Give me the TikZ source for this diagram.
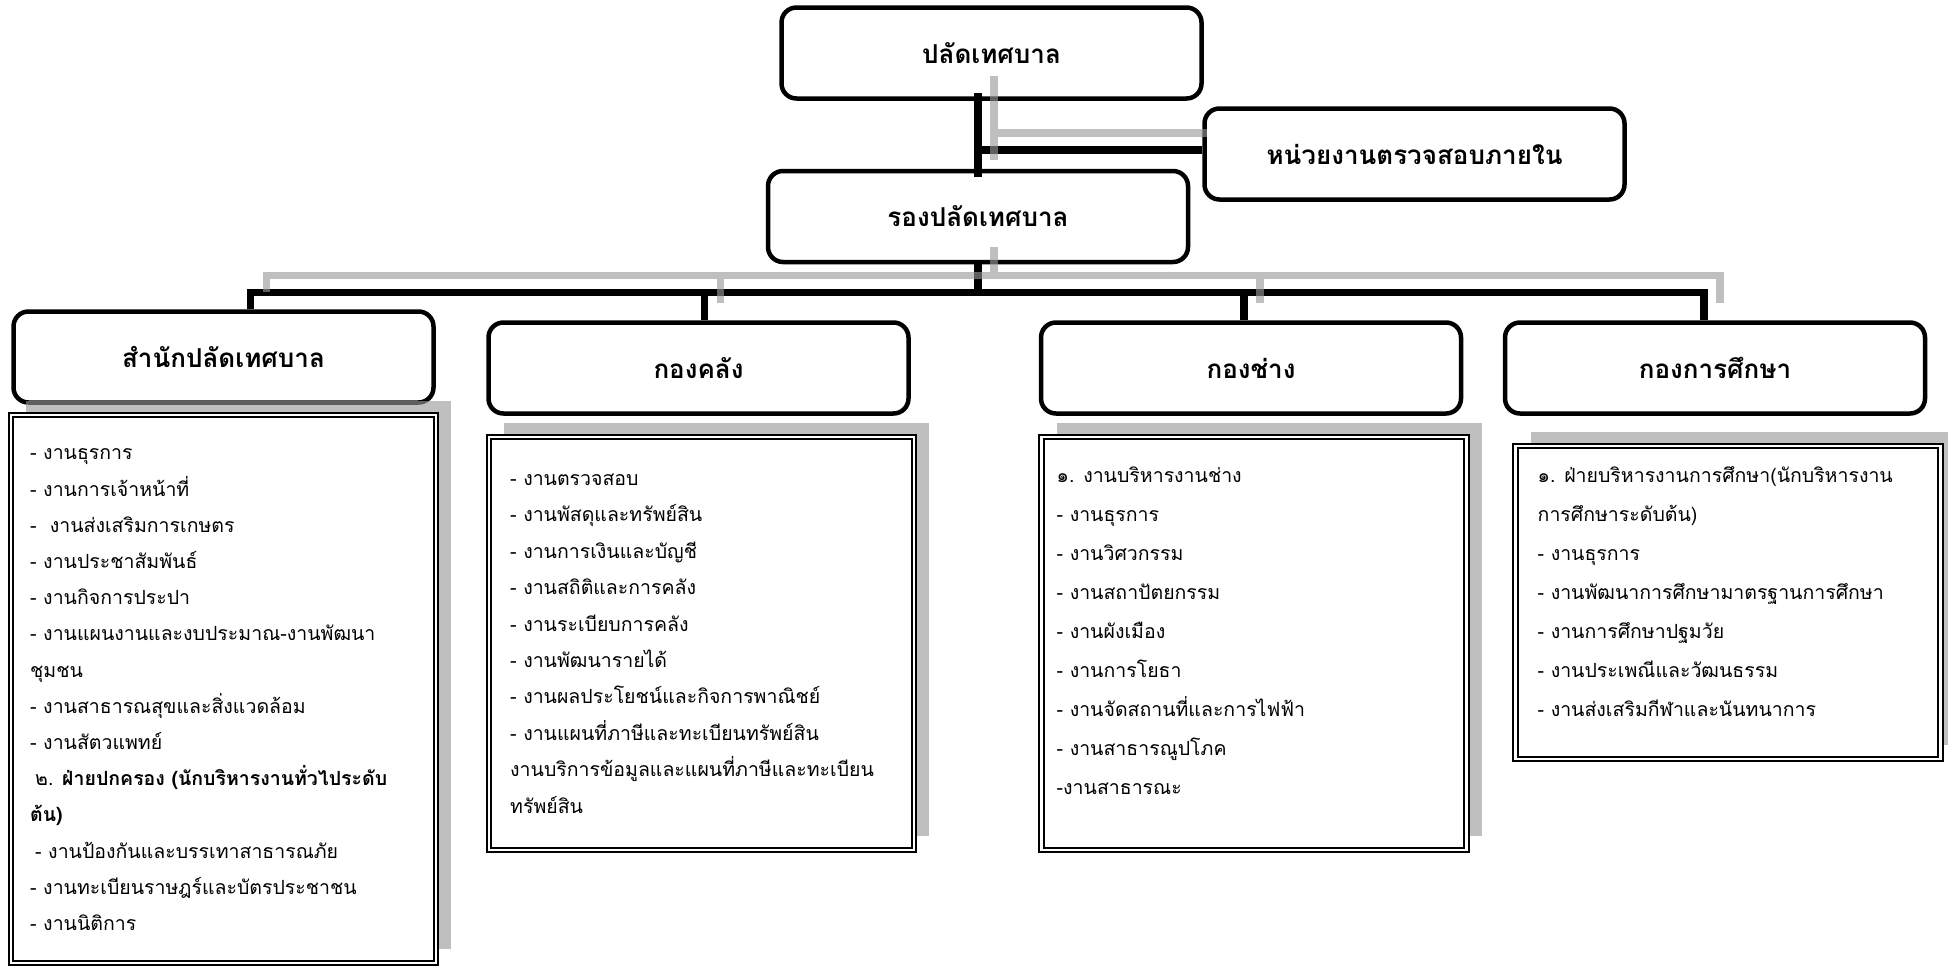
\documentclass[tikz,border=0pt]{standalone}
\usepackage{fontspec}
\setmainfont[Script=Thai]{Loma}
\usetikzlibrary{positioning}
\usetikzlibrary{shadows}

\begin{document}
\begin{tikzpicture}
  [x=1pt, y=-1pt,
   unit/.style = {draw, fill=white, line width=4.5pt, rounded corners=15pt,
                  minimum width=420pt, minimum height=91pt,
                  font=\fontsize{26}{30}\selectfont\bfseries},
   duty/.style = {draw, fill=white, line width=2pt, double, double distance=2.4pt,
                  minimum width=425pt,
                  drop shadow={shadow xshift=15pt, shadow yshift=14pt,
                               fill=black!40, opacity=.625}},
   duties/.style = {align=left, inner sep=0pt},
   link/.style = {line width=7.5pt},
   ghost/.style = {line width=7.5pt, draw=black!40, draw opacity=.625}]
  \useasboundingbox (0,0) rectangle (1948,970);

  % heads
  \node[unit] (top) at (991.5,53) {ปลัดเทศบาล};
  \node[unit] (audit) at (1414.5,154) {หน่วยงานตรวจสอบภายใน};
  \node[unit] (rong) at (978,216.5) {รองปลัดเทศบาล};

  \node[unit] (sanak) at (223.5,357) {สำนักปลัดเทศบาล};
  \node[unit] (khlang) at (698.5,368) {กองคลัง};
  \node[unit] (chang) at (1251,368) {กองช่าง};
  \node[unit] (suksa) at (1715,368) {กองการศึกษา};

  % duty lists
  \node[duty, minimum height=548pt, below=9pt of sanak] (sanakList) {};
  \node[duty, minimum height=413pt, below=20pt of khlang, xshift=3pt] (khlangList) {};
  \node[duty, minimum height=413pt, below=20pt of chang, xshift=3pt] (changList) {};
  \node[duty, minimum height=313pt, below=29pt of suksa, xshift=13pt] (suksaList) {};

  \node[duties, font=\fontsize{19.5}{36.2}\selectfont,
        below right=35pt and 20pt of sanakList.north west] (sanakText)
    {- งานธุรการ\\
     - งานการเจ้าหน้าที่\\
     -~ งานส่งเสริมการเกษตร\\
     - งานประชาสัมพันธ์\\
     - งานกิจการประปา\\
     - งานแผนงานและงบประมาณ-งานพัฒนา\\
     ชุมชน\\
     - งานสาธารณสุขและสิ่งแวดล้อม\\
     - งานสัตวแพทย์\\
     \hspace*{5pt}๒. {\bfseries ฝ่ายปกครอง (นักบริหารงานทั่วไประดับ}\\
     {\bfseries ต้น)}\\
     \hspace*{5pt}- งานป้องกันและบรรเทาสาธารณภัย\\
     - งานทะเบียนราษฎร์และบัตรประชาชน\\
     - งานนิติการ};
  \node[duties, font=\fontsize{19.5}{36.4}\selectfont,
        below right=38pt and 22pt of khlangList.north west] (khlangText)
    {- งานตรวจสอบ\\
     - งานพัสดุและทรัพย์สิน\\
     - งานการเงินและบัญชี\\
     - งานสถิติและการคลัง\\
     - งานระเบียบการคลัง\\
     - งานพัฒนารายได้\\
     - งานผลประโยชน์และกิจการพาณิชย์\\
     - งานแผนที่ภาษีและทะเบียนทรัพย์สิน\\
     งานบริการข้อมูลและแผนที่ภาษีและทะเบียน\\
     ทรัพย์สิน};
  \node[duties, font=\fontsize{19.5}{39}\selectfont,
        below right=31pt and 16pt of changList.north west] (changText)
    {๑. งานบริหารงานช่าง\\
     - งานธุรการ\\
     - งานวิศวกรรม\\
     - งานสถาปัตยกรรม\\
     - งานผังเมือง\\
     - งานการโยธา\\
     - งานจัดสถานที่และการไฟฟ้า\\
     - งานสาธารณูปโภค\\
     -งานสาธารณะ};
  \node[duties, font=\fontsize{19.5}{39}\selectfont,
        below right=22pt and 23pt of suksaList.north west] (suksaText)
    {๑. ฝ่ายบริหารงานการศึกษา(นักบริหารงาน\\
     การศึกษาระดับต้น)\\
     - งานธุรการ\\
     - งานพัฒนาการศึกษามาตรฐานการศึกษา\\
     - งานการศึกษาปฐมวัย\\
     - งานประเพณีและวัฒนธรรม\\
     - งานส่งเสริมกีฬาและนันทนาการ};

  % links
  \coordinate (trunk) at (rong.north |- top.south);
  \coordinate (tap) at (audit.west -| rong.north);
  \coordinate (hub) at ([yshift=-28pt]rong.south);

  \draw[link] ([yshift=8pt]trunk) -- ([yshift=-8pt]rong.north);
  \draw[link] ([yshift=4pt]tap) -- ([yshift=4pt]audit.west);
  \draw[link] (rong.south) -- (hub);
  \draw[link] ([xshift=27pt]sanak.north) |- (hub) -| ([xshift=-11pt]suksa.north);
  \draw[link] ([xshift=6pt]khlang.north) -- ++(0,-28);
  \draw[link] ([xshift=-7pt]chang.north) -- ++(0,-28);

  \begin{scope}[transform canvas={shift={(16pt,17pt)}}]
    \draw[ghost] ([yshift=8pt]trunk) -- ([yshift=-8pt]rong.north)
                 ([yshift=4pt]tap) -- ([xshift=-11pt,yshift=4pt]audit.west)
                 (rong.south) -- (hub)
                 ([xshift=27pt]sanak.north) |- (hub) -| ([xshift=-11pt]suksa.north)
                 ([xshift=6pt]khlang.north) -- ++(0,-28)
                 ([xshift=-7pt]chang.north) -- ++(0,-28);
  \end{scope}
\end{tikzpicture}
\end{document}
